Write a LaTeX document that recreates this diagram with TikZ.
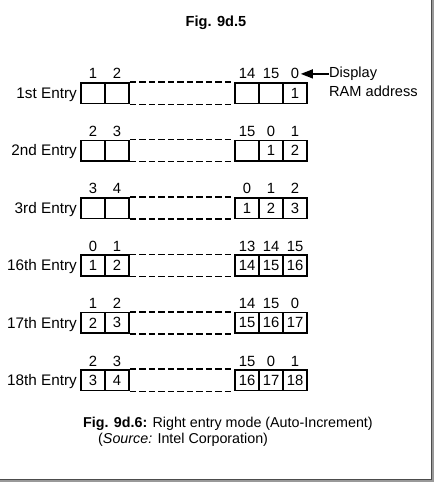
\documentclass[tikz,border=0pt]{standalone}
\usepackage{fontspec}
\setmainfont{Liberation Sans}
\usetikzlibrary{arrows.meta}
\tikzset{
  cell/.style={draw, line width=1.6pt, minimum width=24pt, minimum height=20.5pt, inner sep=0pt, font=\fontsize{14.8}{16}\selectfont},
  topnum/.style={anchor=base, inner sep=1.5pt, font=\fontsize{14.8}{16}\selectfont},
  entry/.style={anchor=base east, inner sep=0pt, font=\fontsize{15.3}{16}\selectfont},
  dashline/.style={line width=1.5pt, dash pattern=on 6.5pt off 3pt},
  txt/.style={inner sep=0pt, font=\fontsize{14.6}{16}\selectfont},
}
\newcommand\entryrow[5]{%
  \foreach \v [count=\k] in {#5} {
    \pgfmathsetmacro\xc{{93,117,247,271,295}[\k-1]}
    \node[cell] (#1b\k) at (\xc, #2+10.25) {\v};
  }
  \foreach \v [count=\k] in {#4} {
    \pgfmathsetmacro\xc{{93,117,247,271,295}[\k-1]}
    \node[topnum] (#1t\k) at (\xc, #2-4) {\v};
  }
  \node[entry] (#1lab) at (77, #2+15.5) {#3};
  \draw[dashline] (#1b2.north east) -- (#1b3.north west);
  \draw[dashline] (#1b2.south east) -- (#1b3.south west);
}
\begin{document}
\begin{tikzpicture}[x=1pt, y=-1pt]
\useasboundingbox (0,0) rectangle (436,484);
% frame shadow
\draw[line width=1.6pt, black!70] (431.5,0) -- (431.5,479.5) -- (0,479.5);
\draw[line width=1.4pt, black!40] (433,0) -- (433,481) -- (0,481);
% title
\node[txt, anchor=base, font=\fontsize{14.6}{16}\selectfont\bfseries] (title) at (216,27) {Fig. 9d.5};
% rows
\entryrow{r1}{83}{1st Entry}{1,2,14,15,0}{{},{},{},{},1}
\entryrow{r2}{140.4}{2nd Entry}{2,3,15,0,1}{{},{},{},1,2}
\entryrow{r3}{197.8}{3rd Entry}{3,4,0,1,2}{{},{},1,2,3}
\entryrow{r4}{255.2}{16th Entry}{0,1,13,14,15}{1,2,14,15,16}
\entryrow{r5}{312.6}{17th Entry}{1,2,14,15,0}{2,3,15,16,17}
\entryrow{r6}{370}{18th Entry}{2,3,15,0,1}{3,4,16,17,18}
% display RAM address
\node[txt, anchor=base west] (disp) at (329,78) {Display};
\node[txt, anchor=base west] (ram) at (329,96) {RAM address};
\draw[line width=1.3pt, -{Triangle[length=12pt, width=9pt]}] (disp.west |- r1t5.east) -- (r1t5.east);
% caption
\node[txt, anchor=base west, font=\fontsize{14.3}{16}\selectfont] (cap1) at (83,427) {\textbf{Fig. 9d.6:} Right entry mode (Auto-Increment)};
\node[txt, anchor=base west, font=\fontsize{14.3}{16}\selectfont] (cap2) at (98,443) {(\textit{Source:} Intel Corporation)};
\end{tikzpicture}
\end{document}
